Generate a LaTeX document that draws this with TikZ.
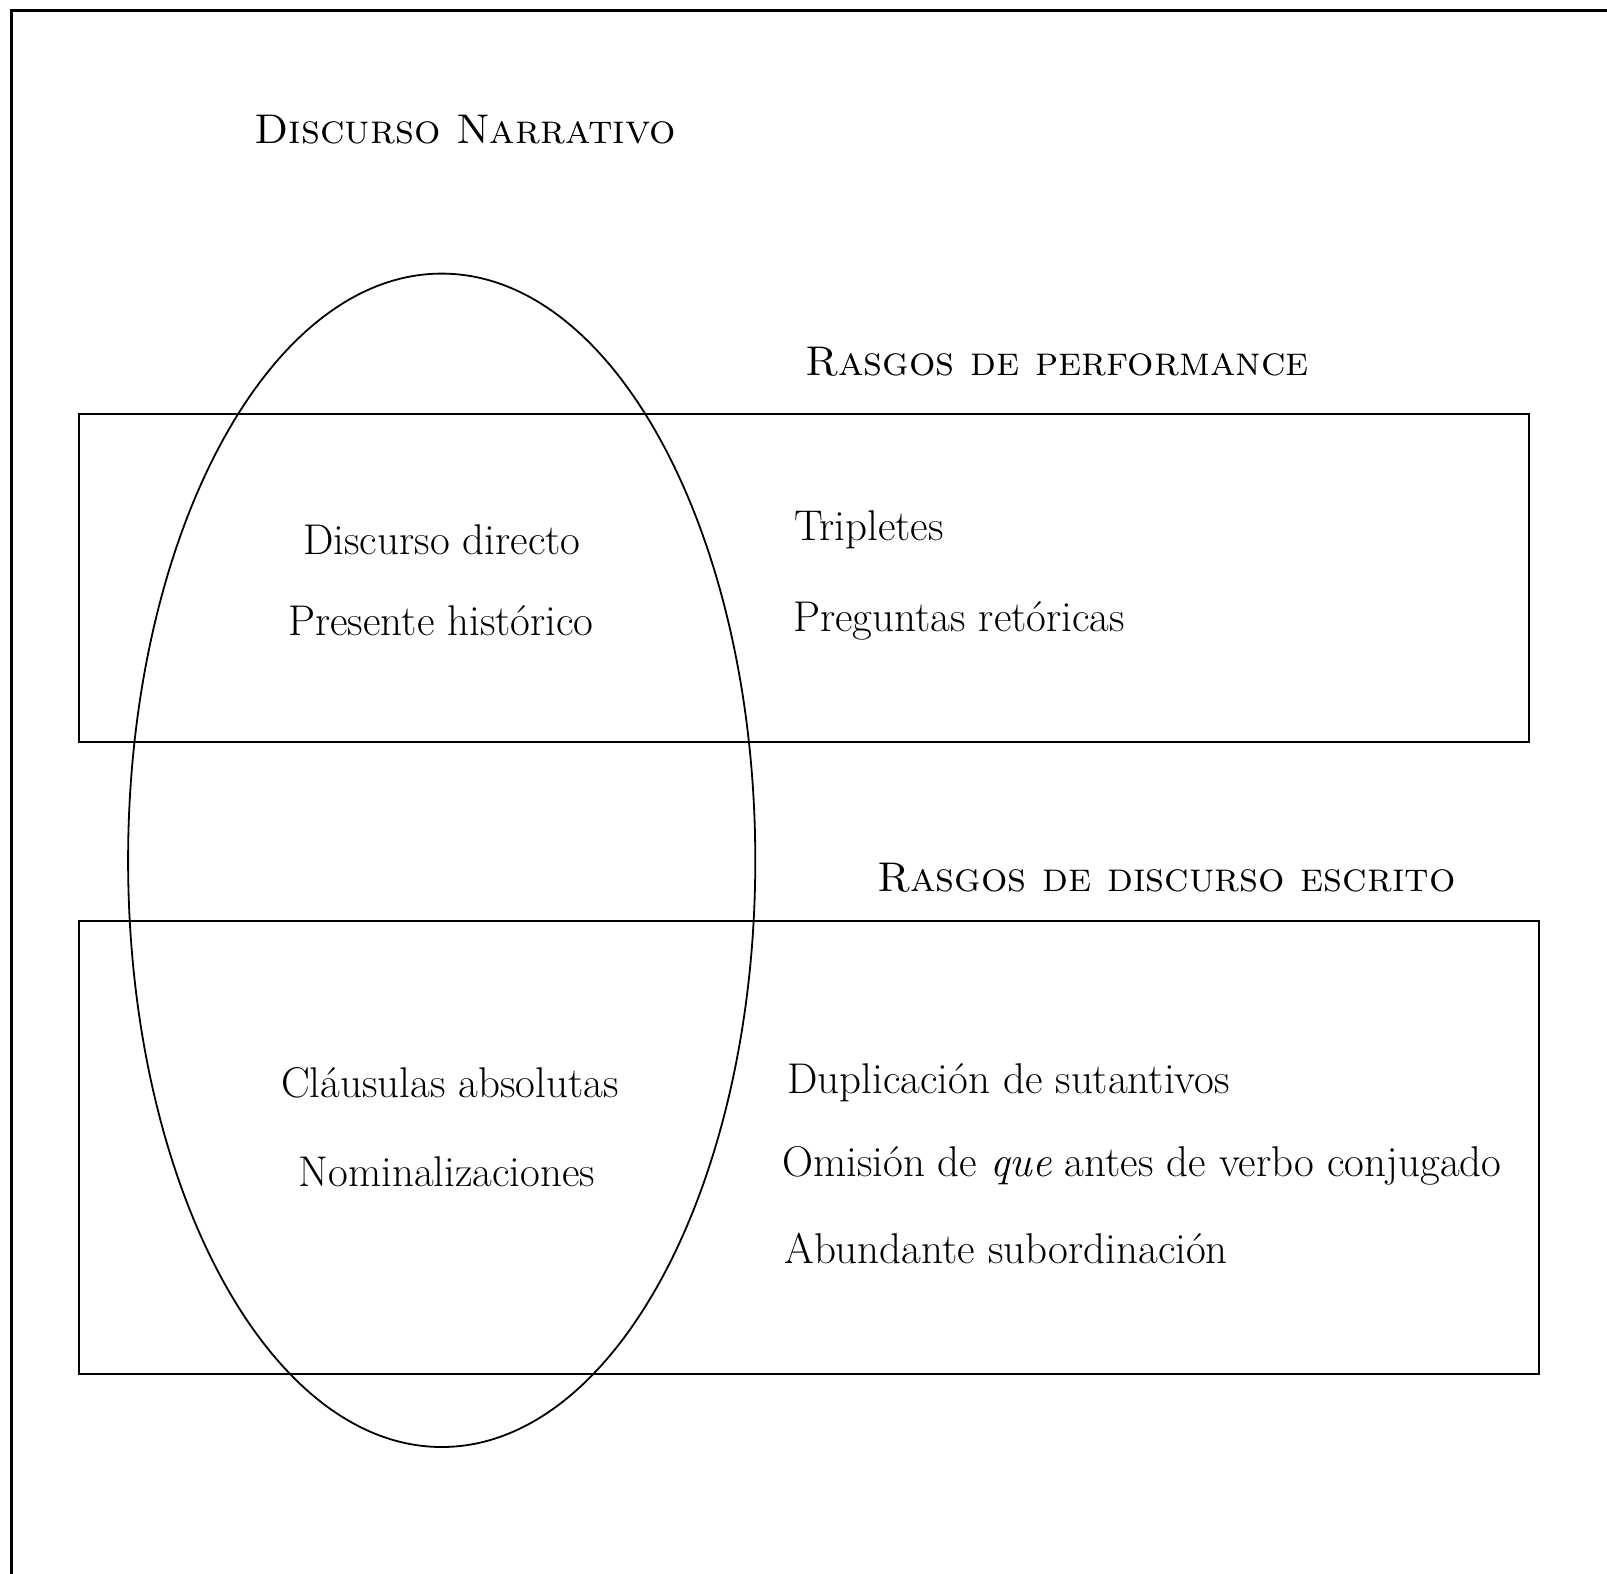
\documentclass[tikz,border=0pt]{standalone}
\usepackage{fontspec}
\begin{document}
\begin{tikzpicture}[x=1pt,y=-1pt,
  line/.style={line width=1.8pt},
  frameline/.style={line width=3pt},
  body/.style={inner sep=0pt,font=\fontsize{43}{48}\selectfont},
  head/.style={inner sep=0pt,font=\fontsize{41.5}{46}\selectfont\addfontfeature{LetterSpace=6}\scshape}]
\useasboundingbox (0,0) rectangle (1607,1574);
\clip (0,0) rectangle (1607,1574);
\fill[white] (0,0) rectangle (1607,1574);
\draw[frameline] (11,1700) -- (11,10) -- (1700,10);
% boxes
\draw[line] (79,414) rectangle (1529,742);
\draw[line] (79,921) rectangle (1539,1374);
\draw[line] (441.7,860.3) ellipse [x radius=313.6, y radius=586.7];
% headings
\node[head,anchor=base west] (title) at (254,143) {Discurso Narrativo};
\node[head,anchor=base west] (perf) at (805,375) {Rasgos de performance};
\node[head,anchor=base west] (escr) at (877,891) {Rasgos de discurso escrito};
% inside ellipse
\node[body,anchor=base] (dd) at (442,554) {Discurso directo};
\node[body,anchor=base] (ph) at (441,635) {Presente histórico};
\node[body,anchor=base] (ca) at (450,1097) {Cláusulas absolutas};
\node[body,anchor=base] (nom) at (447,1186) {Nominalizaciones};
% right texts
\node[body,anchor=base west] (tri) at (794,540) {Tripletes};
\node[body,anchor=base west] (pr) at (793,631) {Preguntas retóricas};
\node[body,anchor=base west] (dup) at (787,1093) {Duplicación de sutantivos};
\node[body,anchor=base west] (omi) at (782,1176) {Omisión de \textit{que} antes de verbo conjugado};
\node[body,anchor=base west] (abu) at (784,1263) {Abundante subordinación};
\end{tikzpicture}
\end{document}
